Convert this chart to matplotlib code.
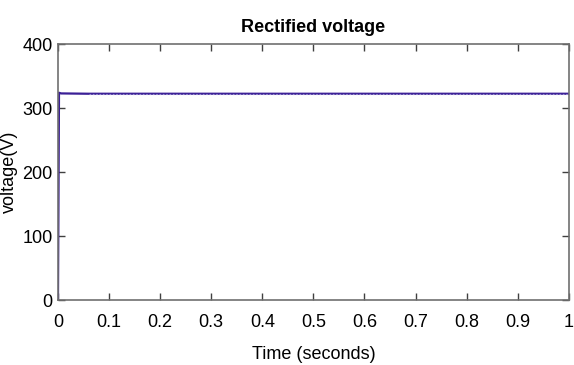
import matplotlib
matplotlib.use("Agg")
import matplotlib.pyplot as plt
from matplotlib import font_manager as fm

t = [0.0, 0.002, 0.006, 0.06, 1.0]
v = [0.0, 324.0, 323.0, 322.5, 322.5]
xticks = [0, 0.1, 0.2, 0.3, 0.4, 0.5, 0.6, 0.7, 0.8, 0.9, 1]
xlabels = ["0", "0.1", "0.2", "0.3", "0.4", "0.5", "0.6", "0.7", "0.8", "0.9", "1"]
yticks = [0, 100, 200, 300, 400]

names = {f.name for f in fm.fontManager.ttflist}
fam = 'Liberation Sans Narrow' if 'Liberation Sans Narrow' in names else 'Liberation Sans'
cond = fam == 'Liberation Sans Narrow'
plt.rcParams['font.family'] = [fam, 'DejaVu Sans']
fs = 15 if cond else 13
fig = plt.figure(figsize=(5.74, 3.65), dpi=100)
ax = fig.add_axes([0.101, 0.178, 0.890, 0.701])
ax.plot(t, v, color='#3b1f96', lw=1.6)
ax.plot(t[3:], v[3:], color='#9a8fd0', lw=0.8, dashes=(1.5, 1.5))
ax.set_xlim(0, 1)
ax.set_ylim(0, 400)
ax.set_xticks(xticks)
ax.set_xticklabels(xlabels)
ax.set_yticks(yticks)
ax.tick_params(direction='in', top=True, right=True, length=5, width=1, color='#404040', labelsize=fs)
ax.tick_params(axis='x', pad=10)
ax.tick_params(axis='y', pad=4)
for s in ax.spines.values():
    s.set_color('#707070')
    s.set_linewidth(1.2)
ax.set_title('Rectified voltage', fontsize=fs, fontweight='bold', pad=9)
ax.set_xlabel('Time (seconds)', fontsize=fs, labelpad=11)
ax.set_ylabel('voltage(V)', fontsize=fs, labelpad=3)
fig.savefig('out.png', dpi=100)
